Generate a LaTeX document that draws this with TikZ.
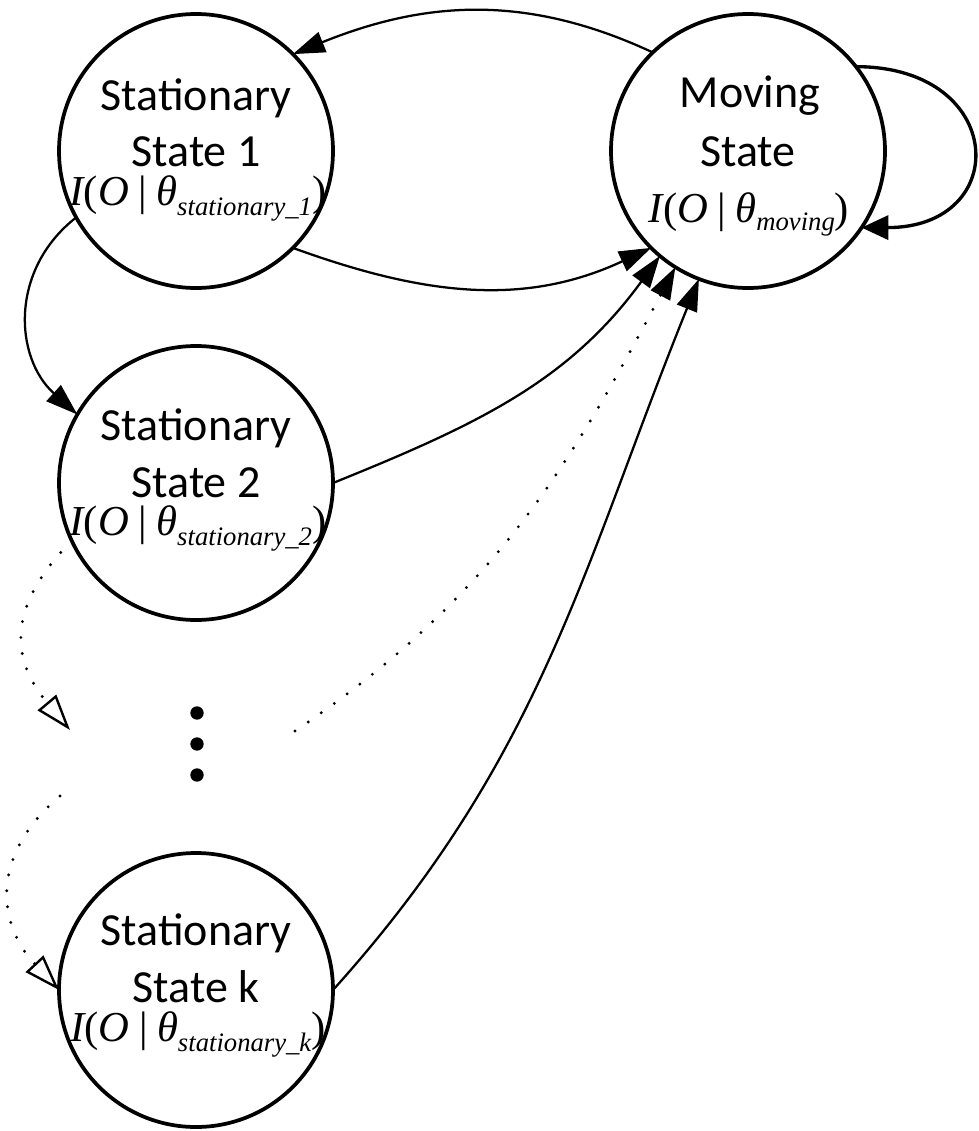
\documentclass[tikz,border=0pt]{standalone}
\usepackage{fontspec}
\setmainfont{Carlito}
\newfontfamily\tmsfont{Liberation Serif}
\usetikzlibrary{arrows.meta,calc}
\newcommand\mlab[2]{{\tmsfont\fontsize{32}{32}\selectfont\itshape I\upshape(\itshape O\upshape\hspace{0.22em}|\hspace{0.22em}\itshape θ\raisebox{-#2}{\fontsize{20}{20}\selectfont\itshape #1}\upshape)}}
\begin{document}
\begin{tikzpicture}[x=0.75pt,y=-0.75pt,
  state/.style={circle,draw,line width=2.8pt,minimum size=205.5pt,inner sep=0pt,outer sep=0pt},
  lbl/.style={anchor=base,inner sep=0pt,font=\fontsize{34.5}{34.5}\selectfont},
  bigdot/.style={circle,fill,minimum size=10pt,inner sep=0pt},
  arr/.style={line width=1.7pt,-{Triangle[length=24pt,width=16pt]}},
  looparr/.style={line width=2.5pt,-{Triangle[length=20pt,width=18pt]}},
  dotarr/.style={line width=2.4pt,line cap=round,dash pattern=on 0pt off 12pt,-{Triangle[length=24pt,width=16pt]}},
  dotopen/.style={line width=2.4pt,line cap=round,dash pattern=on 0pt off 12pt,-{Triangle[open,length=27pt,width=18pt,line width=1.8pt]}}]
\useasboundingbox (0,0) rectangle (978,1131);
% states
\node[state] (s1) at (196,151) {};
\node[state] (mov) at (748,151) {};
\node[state] (s2) at (196,483) {};
\node[state] (sk) at (196,990) {};
% labels
\node[lbl] (s1a) at ($(s1)+(0,-41)$) {Stationary};
\node[lbl] (s1b) at ($(s1)+(0,15)$) {State 1};
\node[lbl] (s1c) at ($(s1)+(2,54)$) {\mlab{stationary\_1}{8pt}};
\node[lbl] (mova) at ($(mov)+(2,-43)$) {Moving};
\node[lbl] (movb) at ($(mov)+(0,15)$) {State};
\node[lbl] (movc) at ($(mov)+(1,71)$) {\mlab{moving}{6pt}};
\node[lbl] (s2a) at ($(s2)+(0,-43)$) {Stationary};
\node[lbl] (s2b) at ($(s2)+(0,14)$) {State 2};
\node[lbl] (s2c) at ($(s2)+(2,52)$) {\mlab{stationary\_2}{8pt}};
\node[lbl] (ska) at ($(sk)+(0,-45)$) {Stationary};
\node[lbl] (skb) at ($(sk)+(0,12)$) {State k};
\node[lbl] (skc) at ($(sk)+(2,51)$) {\mlab{stationary\_k}{8pt}};
% vertical ellipsis
\node[bigdot] (v1) at (197,713) {};
\node[bigdot] (v2) at (197,744) {};
\node[bigdot] (v3) at (197,775) {};
% free ends
\coordinate (d1) at (295,731);
\coordinate (d2) at (70,730);
\coordinate (d3) at (60,796);
% connectors
\draw[arr] (mov.134) to[out=155,in=22] (s1.45);
\draw[arr] (s1.-45) to[out=-20,in=205] (mov.225);
\draw[arr] (s2.0) to[out=22,in=234] (mov.230);
\draw[dotarr] (d1) to[out=34,in=242] (mov.238);
\draw[arr] (sk.0) to[out=48,in=248] (mov.249);
\draw[looparr] (mov.38) to[out=0,in=0,looseness=2.4] (mov.-34);
\draw[arr] (s1.209) to[out=218,in=138,looseness=1.1] (s2.150);
\draw[dotopen] (s2.205) to[out=225,in=130,looseness=1.25] (d2);
\draw[dotopen] (d3) to[out=220,in=133,looseness=1.2] (sk.180);
\end{tikzpicture}
\end{document}
